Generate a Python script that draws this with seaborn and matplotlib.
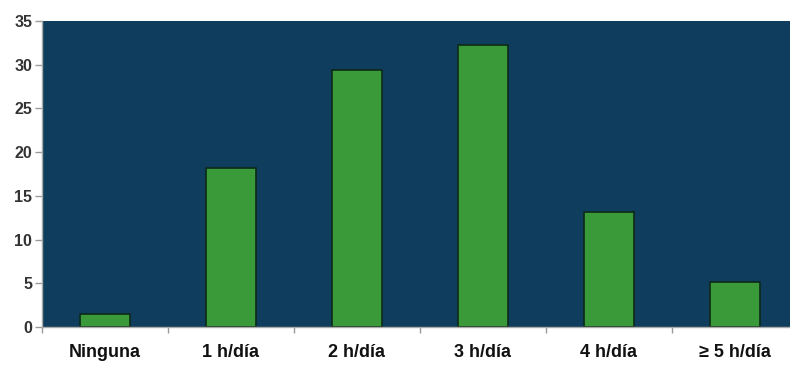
import matplotlib
matplotlib.use("Agg")
import matplotlib.pyplot as plt
import seaborn as sns
import pandas as pd
import numpy as np

categories = ["Ninguna", "1 h/día", "2 h/día", "3 h/día", "4 h/día", "≥ 5 h/día"]
values = [1.5, 18.2, 29.4, 32.3, 13.1, 5.2]

sns.set_style("white")
plt.rcParams['font.family'] = ['Liberation Sans', 'DejaVu Sans']

df = pd.DataFrame({"cat": categories, "val": values})

fig = plt.figure(figsize=(7.9, 3.72), dpi=100)
ax = fig.add_axes([42/790, 45/372, 756/790, 306/372])
ax.set_facecolor("#0f3d5d")

sns.barplot(data=df, x="cat", y="val", color="#3a9a3a", width=0.4,
            edgecolor="#0c2a18", linewidth=1.2, saturation=1, ax=ax)

ax.set_ylim(0, 35)
ax.set_xlim(-0.5, len(categories) - 0.5)
ax.set_yticks(np.arange(0, 36, 5))
ax.set_xlabel("")
ax.set_ylabel("")

ax.set_xticks(np.arange(-0.5, len(categories), 1.0), minor=True)
ax.tick_params(axis="x", which="major", length=0, pad=12, labelsize=13)
ax.tick_params(axis="x", which="minor", length=4, color="#999999", width=1, bottom=True)
ax.tick_params(axis="y", length=5, color="#999999", width=1, left=True, labelsize=11.5, pad=2)
for lab in ax.get_xticklabels():
    lab.set_fontweight("bold")
    lab.set_color("#111111")
for lab in ax.get_yticklabels():
    lab.set_fontweight("bold")
    lab.set_color("#333333")

for s in ["top", "right"]:
    ax.spines[s].set_visible(False)
for s in ["left", "bottom"]:
    ax.spines[s].set_color("#aaaaaa")
    ax.spines[s].set_linewidth(1)

fig.savefig("out.png", dpi=100)
